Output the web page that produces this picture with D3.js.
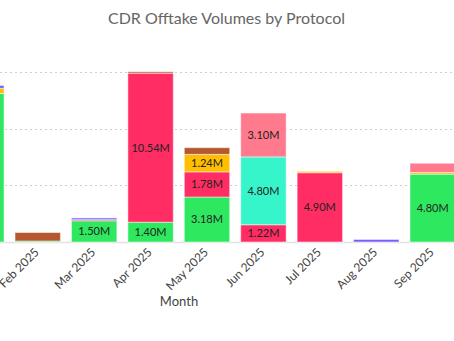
<!DOCTYPE html>
<html>
<head>
<meta charset="utf-8">
<script src="https://cdn.jsdelivr.net/npm/d3@7"></script>
<style>
  body { margin: 0; background: #fff; }
  svg { display: block; font-family: Lato, "Open Sans", sans-serif; }
</style>
</head>
<body>
<svg id="chart" width="454" height="341"></svg>
<script>
// months on the x axis
var months = ["Jan 2025", "Feb 2025", "Mar 2025", "Apr 2025", "May 2025", "Jun 2025", "Jul 2025", "Aug 2025", "Sep 2025"];

// stacked series, bottom to top, volumes in millions
var protocols = ["Protocol A", "Protocol B", "Protocol C", "Protocol D", "Protocol E", "Protocol F", "Protocol G"];
var protocolA = [10.50, 0.07, 1.50, 1.40, 3.18, 0, 0, 0, 4.80];
var protocolB = [0, 0, 0.08, 10.54, 1.78, 1.22, 4.90, 0, 0];
var protocolC = [0, 0, 0, 0, 0, 4.80, 0, 0, 0];
var protocolD = [0.37, 0, 0, 0, 1.24, 0, 0.10, 0, 0.12];
var protocolE = [0, 0, 0, 0, 0, 3.10, 0, 0, 0.65];
var protocolF = [0, 0.60, 0, 0.10, 0.47, 0, 0, 0, 0];
var protocolG = [0.20, 0, 0.12, 0, 0, 0, 0, 0.18, 0];

var gridTicks = [4, 8, 12];

var colors = ["#2ee85f", "#ff2d63", "#36f5cb", "#ffbf00", "#ff7a8c", "#b5582f", "#7a5cff"];

var series = [protocolA, protocolB, protocolC, protocolD, protocolE, protocolF, protocolG];

// rows for d3.stack
var table = months.map(function(m, i) {
	var row = { month: m };
	protocols.forEach(function(p, j) { row[p] = series[j][i]; });
	return row;
});

var stacked = d3.stack().keys(protocols)(table);

var svg = d3.select("#chart");

var x = d3.scaleBand()
	.domain(months)
	.range([-46.9, 460.9])
	.paddingInner(0.195)
	.paddingOuter(0.0975);

var y = d3.scaleLinear()
	.domain([0, 13])
	.range([242, 242 - 13 * 14.14]);

// dotted gridlines
svg.append("g")
	.selectAll("line")
	.data(gridTicks)
	.enter().append("line")
	.attr("x1", 0)
	.attr("x2", 454)
	.attr("y1", function(d) { return Math.round(y(d)) + 0.5; })
	.attr("y2", function(d) { return Math.round(y(d)) + 0.5; })
	.style("stroke", "#cfcfcf")
	.style("stroke-width", 1)
	.style("stroke-dasharray", "2,3");

// zero line
svg.append("line")
	.attr("x1", 0)
	.attr("x2", 454)
	.attr("y1", y(0) + 0.5)
	.attr("y2", y(0) + 0.5)
	.style("stroke", "#e2e2e2")
	.style("stroke-width", 1.5);

var layers = svg.selectAll(".layer")
	.data(stacked)
	.enter().append("g")
	.attr("class", "layer")
	.style("fill", function(d, i) { return colors[i]; });

layers.selectAll("rect")
	.data(function(d) { return d.filter(function(s) { return s[1] - s[0] > 0; }); })
	.enter().append("rect")
	.attr("x", function(d) { return x(d.data.month); })
	.attr("y", function(d) { return y(d[1]); })
	.attr("width", x.bandwidth())
	.attr("height", function(d) { return y(d[0]) - y(d[1]); })
	.style("stroke", "#ffffff")
	.style("stroke-opacity", 0.5)
	.style("stroke-width", 1);

// value labels inside the bigger segments
var fmt = d3.format(".2f");
layers.selectAll("text")
	.data(function(d) { return d.filter(function(s) { return s[1] - s[0] >= 1; }); })
	.enter().append("text")
	.attr("x", function(d) { return x(d.data.month) + x.bandwidth() / 2; })
	.attr("y", function(d) { return (y(d[0]) + y(d[1])) / 2; })
	.attr("dy", "0.36em")
	.style("text-anchor", "middle")
	.style("fill", "#222")
	.style("font-size", "11px")
	.text(function(d) { return fmt(d[1] - d[0]) + "M"; });

// x tick labels
svg.append("g")
	.selectAll("text")
	.data(months)
	.enter().append("text")
	.attr("transform", function(d) { return "translate(" + (x(d) + x.bandwidth() / 2 + 2) + ",253) rotate(-45)"; })
	.style("text-anchor", "end")
	.style("fill", "#444")
	.style("font-size", "12px")
	.text(function(d) { return d; });

// axis title
svg.append("text")
	.attr("x", 179)
	.attr("y", 306)
	.style("text-anchor", "middle")
	.style("fill", "#444")
	.style("font-size", "13px")
	.text("Month");

// chart title
svg.append("text")
	.attr("x", 226.5)
	.attr("y", 24)
	.style("text-anchor", "middle")
	.style("fill", "#666")
	.style("font-size", "16px")
	.text("CDR Offtake Volumes by Protocol");
</script>
</body>
</html>
